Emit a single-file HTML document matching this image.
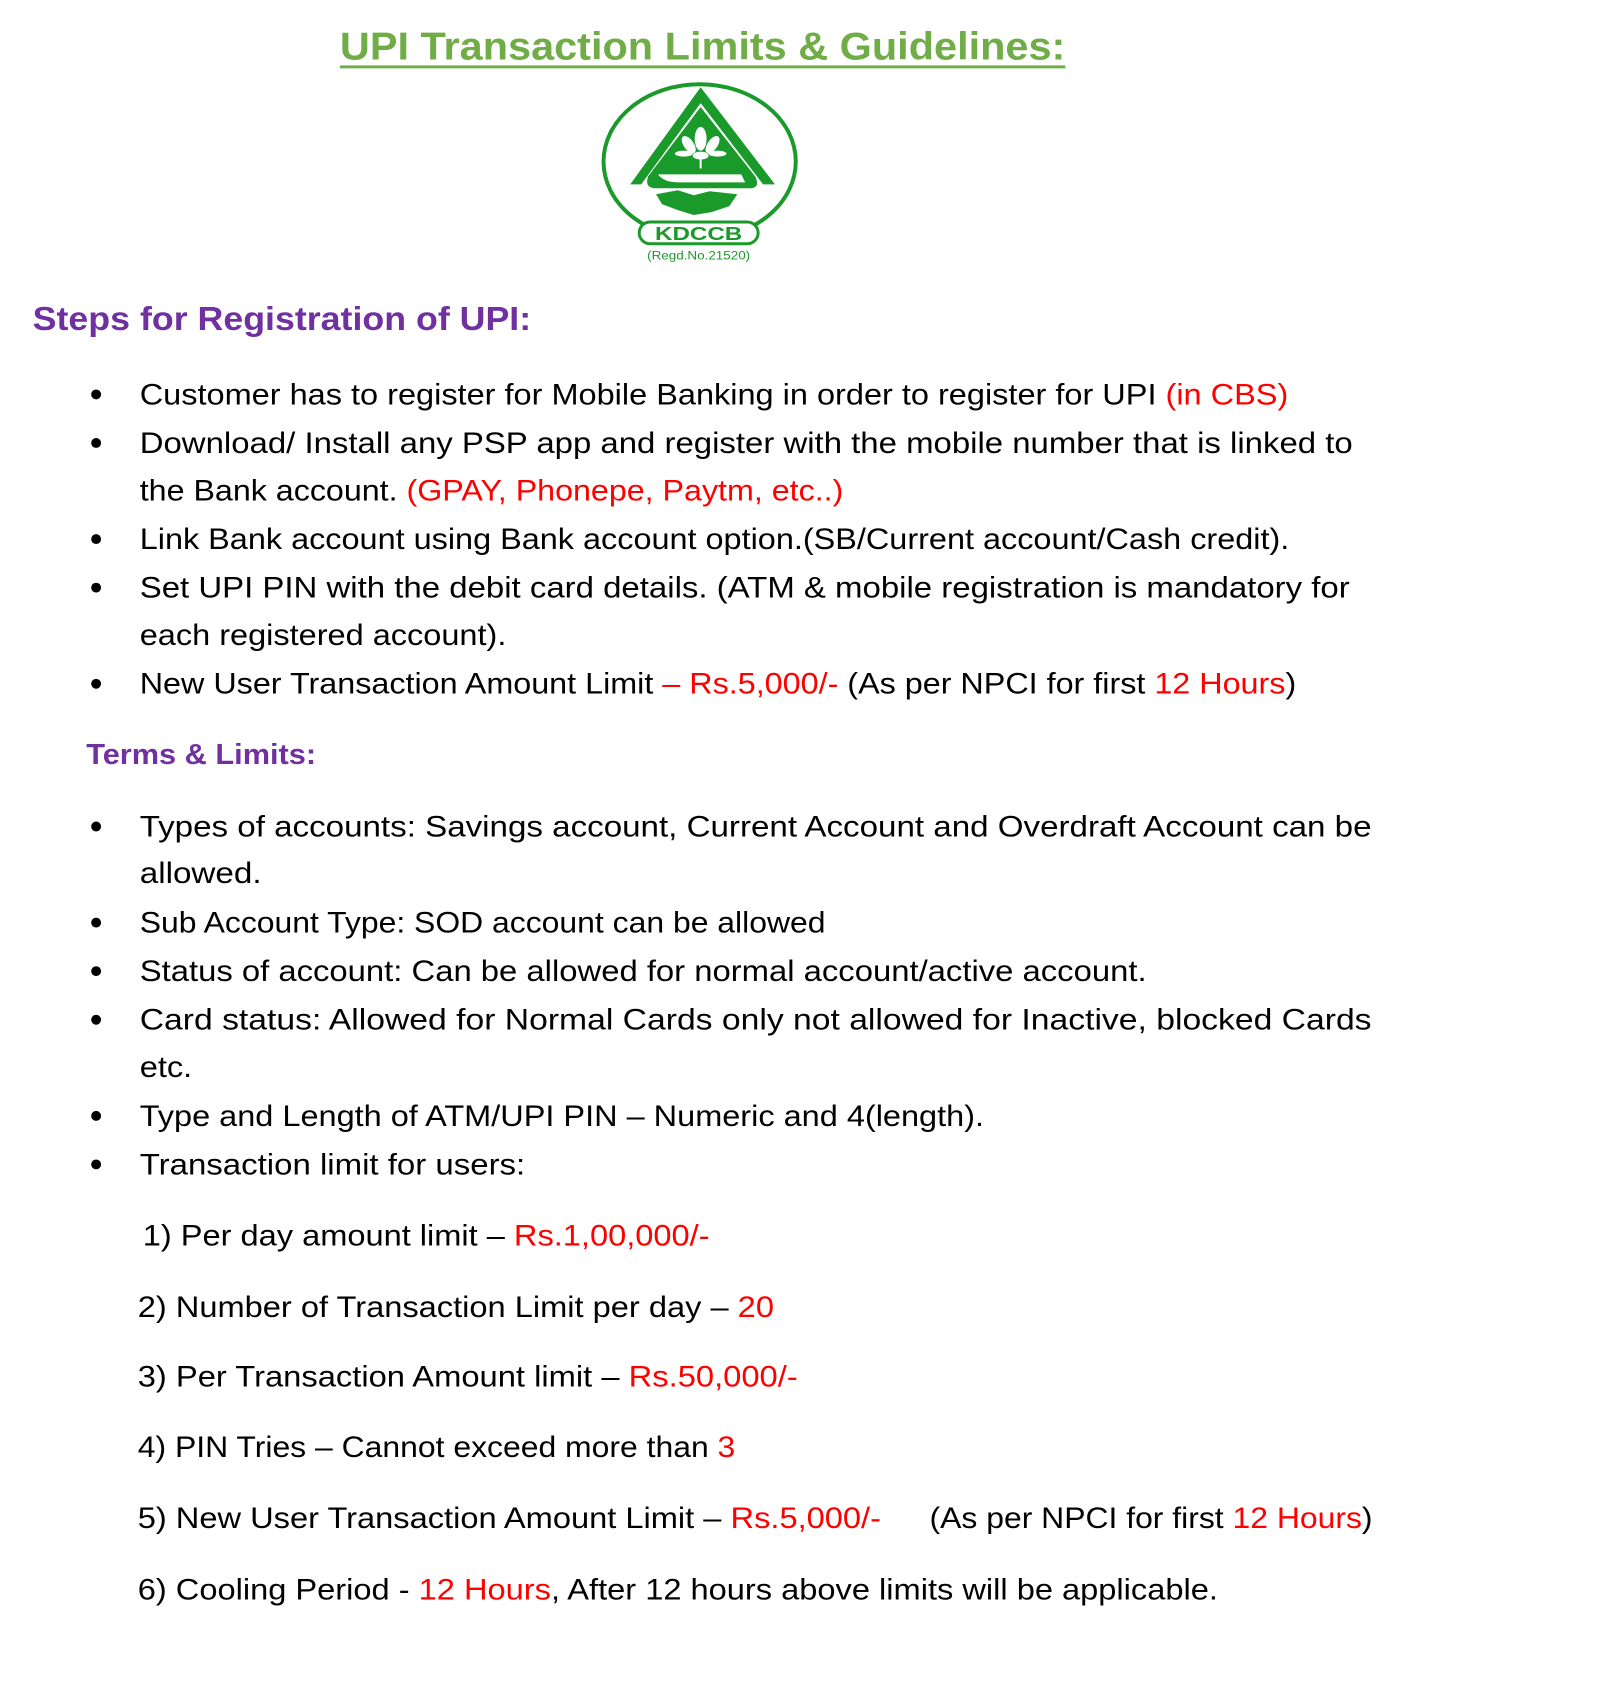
<!DOCTYPE html>
<html><head><meta charset="utf-8"><style>
html,body{margin:0;padding:0;background:#fff;}
svg{display:block;}
text{font-family:"Liberation Sans",sans-serif;}
.b{font-size:30px;fill:#000;}
.r{fill:#ff0000;}
</style></head><body>
<svg width="1600" height="1692" viewBox="0 0 1600 1692" xmlns="http://www.w3.org/2000/svg">
<rect width="1600" height="1692" fill="#fff"/>
<g transform="scale(0.991)">
<!-- title -->
<text x="343" y="60" font-size="39" font-weight="bold" fill="#70ad47" textLength="732" lengthAdjust="spacingAndGlyphs">UPI  Transaction Limits &amp; Guidelines:</text>
<rect x="343" y="66" width="732" height="3" fill="#70ad47"/>
<!-- logo -->
<g fill="#1a9a2a" stroke="none">
<ellipse cx="706" cy="163" rx="97" ry="78" fill="none" stroke="#1a9a2a" stroke-width="4"/>
<path d="M707 88 L636 186 L647 186 L707 104 L770 186 L782 186 Z"/>
<path d="M707 108 L654 178 Q650 190 662 190 L756 190 Q768 190 762 178 Z"/>
<path d="M664 176 Q670 184 684 184 L752 184 L748 176 Z" fill="#fff"/>
<g fill="#fff"><ellipse cx="707" cy="140" rx="6" ry="12"/><ellipse cx="695" cy="146" rx="5" ry="10" transform="rotate(-35 695 146)"/><ellipse cx="719" cy="146" rx="5" ry="10" transform="rotate(35 719 146)"/><ellipse cx="690" cy="155" rx="9" ry="3"/><ellipse cx="724" cy="155" rx="9" ry="3"/><ellipse cx="707" cy="157" rx="8" ry="4"/><rect x="706" y="160" width="2" height="10"/></g>
<path d="M662 196 L684 192 L700 197 L716 193 L744 196 L736 208 L718 214 L700 217 L684 212 L668 206 Z"/>
<rect x="645" y="224" width="120" height="22" rx="11" fill="#fff" stroke="#1a9a2a" stroke-width="3"/>
</g>
<text x="705" y="242" font-size="19" font-weight="bold" fill="#1a9a2a" text-anchor="middle" textLength="88" lengthAdjust="spacingAndGlyphs">KDCCB</text>
<text x="705" y="262" font-size="12" fill="#1a9a2a" text-anchor="middle" textLength="104" lengthAdjust="spacingAndGlyphs">(Regd.No.21520)</text>
<!-- steps heading -->
<text x="33" y="333" font-size="34" font-weight="bold" fill="#7030a0" textLength="503" lengthAdjust="spacingAndGlyphs">Steps for Registration of UPI:</text>
<g fill="#000">
<circle cx="97" cy="398" r="5"/><circle cx="97" cy="447" r="5"/><circle cx="97" cy="544" r="5"/><circle cx="97" cy="593" r="5"/><circle cx="97" cy="690" r="5"/>
<circle cx="97" cy="834" r="5"/><circle cx="97" cy="931" r="5"/><circle cx="97" cy="980" r="5"/><circle cx="97" cy="1029" r="5"/><circle cx="97" cy="1126" r="5"/><circle cx="97" cy="1175" r="5"/>
</g>
<text class="b" x="141" y="408" textLength="1159" lengthAdjust="spacingAndGlyphs">Customer has to register for Mobile Banking in order to register for UPI <tspan class="r">(in CBS)</tspan></text>
<text class="b" x="141" y="457" textLength="1224" lengthAdjust="spacingAndGlyphs">Download/ Install any PSP app and register with the mobile number that is linked to</text>
<text class="b" x="141" y="505" textLength="710" lengthAdjust="spacingAndGlyphs">the Bank account. <tspan class="r">(GPAY, Phonepe, Paytm, etc..)</tspan></text>
<text class="b" x="141" y="554" textLength="1160" lengthAdjust="spacingAndGlyphs">Link Bank account using Bank account option.(SB/Current account/Cash credit).</text>
<text class="b" x="141" y="603" textLength="1221" lengthAdjust="spacingAndGlyphs">Set UPI PIN with the debit card details. (ATM &amp; mobile registration is mandatory for</text>
<text class="b" x="141" y="651" textLength="370" lengthAdjust="spacingAndGlyphs">each registered account).</text>
<text class="b" x="141" y="700" textLength="1167" lengthAdjust="spacingAndGlyphs">New User Transaction Amount Limit <tspan class="r">– Rs.5,000/-</tspan> (As per NPCI for first <tspan class="r">12 Hours</tspan>)</text>
<text x="87" y="771" font-size="29" font-weight="bold" fill="#7030a0" textLength="232" lengthAdjust="spacingAndGlyphs">Terms &amp; Limits:</text>
<text class="b" x="141" y="844" textLength="1243" lengthAdjust="spacingAndGlyphs">Types of accounts: Savings account, Current Account and Overdraft Account can be</text>
<text class="b" x="141" y="891" textLength="123" lengthAdjust="spacingAndGlyphs">allowed.</text>
<text class="b" x="141" y="941" textLength="692" lengthAdjust="spacingAndGlyphs">Sub Account Type: SOD account can be allowed</text>
<text class="b" x="141" y="990" textLength="1016" lengthAdjust="spacingAndGlyphs">Status of account: Can be allowed for normal account/active account.</text>
<text class="b" x="141" y="1039" textLength="1243" lengthAdjust="spacingAndGlyphs">Card status: Allowed for Normal Cards only not allowed for Inactive, blocked Cards</text>
<text class="b" x="141" y="1087" textLength="53" lengthAdjust="spacingAndGlyphs">etc.</text>
<text class="b" x="141" y="1136" textLength="852" lengthAdjust="spacingAndGlyphs">Type and Length of ATM/UPI PIN – Numeric and 4(length).</text>
<text class="b" x="141" y="1185" textLength="389" lengthAdjust="spacingAndGlyphs">Transaction limit for users:</text>
<text class="b" x="144" y="1257" textLength="572" lengthAdjust="spacingAndGlyphs">1) Per day amount limit – <tspan class="r">Rs.1,00,000/-</tspan></text>
<text class="b" x="139" y="1329" textLength="642" lengthAdjust="spacingAndGlyphs">2) Number of Transaction Limit per day – <tspan class="r">20</tspan></text>
<text class="b" x="139" y="1399" textLength="666" lengthAdjust="spacingAndGlyphs">3) Per Transaction Amount limit – <tspan class="r">Rs.50,000/-</tspan></text>
<text class="b" x="139" y="1470" textLength="603" lengthAdjust="spacingAndGlyphs">4) PIN Tries – Cannot exceed more than <tspan class="r">3</tspan></text>
<text class="b" x="139" y="1542" textLength="750" lengthAdjust="spacingAndGlyphs">5) New User Transaction Amount Limit – <tspan class="r">Rs.5,000/-</tspan></text>
<text class="b" x="938" y="1542" textLength="447" lengthAdjust="spacingAndGlyphs">(As per NPCI for first <tspan class="r">12 Hours</tspan>)</text>
<text class="b" x="139" y="1614" textLength="1090" lengthAdjust="spacingAndGlyphs">6) Cooling Period - <tspan class="r">12 Hours</tspan>, After 12 hours above limits will be applicable.</text>
</g>
</svg>
</body></html>
